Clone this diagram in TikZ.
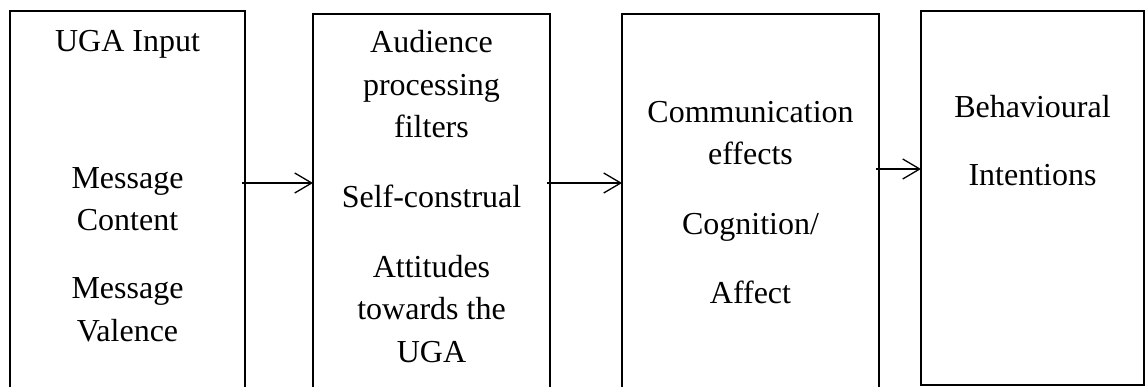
\documentclass[tikz,border=0pt]{standalone}
\usepackage{fontspec}
\setmainfont{Liberation Serif}
\usetikzlibrary{arrows.meta}

\begin{document}
\begin{tikzpicture}[x=1pt,y=-1pt,
  stage/.style={draw, line width=1.6pt, rectangle, anchor=north west,
    inner sep=0pt, outer sep=0pt},
  txt/.style={anchor=base, inner sep=0pt, font=\fontsize{32}{42}\selectfont},
  flow/.style={line width=1.3pt, shorten <=-3pt,
    -{Straight Barb[length=17pt,width=20pt,line width=1.3pt]}}]
  \clip (0,0) rectangle (1147,387);

  % stage boxes
  \node[stage, minimum width=235pt, minimum height=390pt] (b1) at (10,11) {};
  \node[stage, minimum width=237pt, minimum height=390pt] (b2) at (313,14) {};
  \node[stage, minimum width=257pt, minimum height=390pt] (b3) at (622,14) {};
  \node[stage, minimum width=223pt, minimum height=374pt] (b4) at (921,11) {};

  % input
  \node[txt] (t11) at (127.5,52)  {UGA Input};
  \node[txt] (t12) at (127.5,189) {Message};
  \node[txt] (t13) at (127.5,231) {Content};
  \node[txt] (t14) at (127.5,298) {Message};
  \node[txt] (t15) at (127.5,341) {Valence};

  % processing filters
  \node[txt] (t21) at (431.5,53)    {Audience};
  \node[txt] (t22) at (431.5,95.5)  {processing};
  \node[txt] (t23) at (431.5,138)   {filters};
  \node[txt] (t24) at (431.5,208)   {Self-construal};
  \node[txt] (t25) at (431.5,277)   {Attitudes};
  \node[txt] (t26) at (431.5,319.5) {towards the};
  \node[txt] (t27) at (431.5,362)   {UGA};

  % effects
  \node[txt] (t31) at (750.5,123) {Communication};
  \node[txt] (t32) at (750.5,165) {effects};
  \node[txt] (t33) at (750.5,235) {Cognition/};
  \node[txt] (t34) at (750.5,303) {Affect};

  % outcome
  \node[txt] (t41) at (1032.5,118) {Behavioural};
  \node[txt] (t42) at (1032.5,186) {Intentions};

  % connectors
  \draw[flow] (b1.east |- 0,183) -- (b2.west |- 0,183);
  \draw[flow] (b2.east |- 0,183) -- (b3.west |- 0,183);
  \draw[flow] (b3.east |- 0,169) -- (b4.west |- 0,169);
\end{tikzpicture}
\end{document}
